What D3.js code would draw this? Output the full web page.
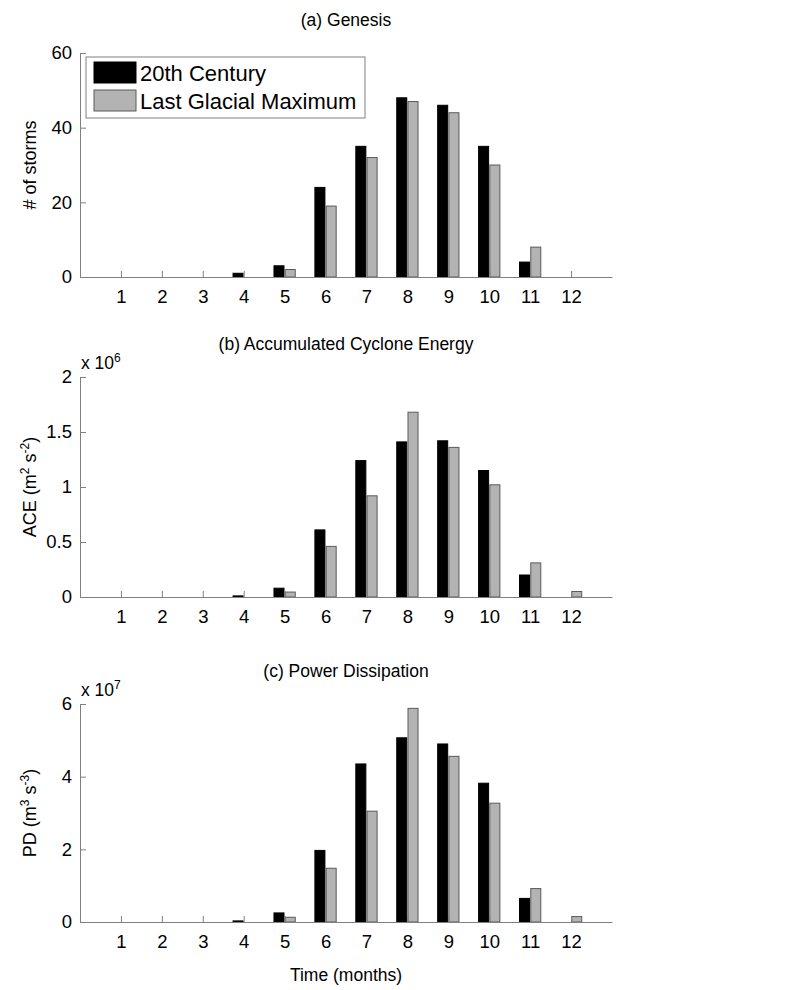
<!DOCTYPE html>
<html>
<head>
<meta charset="utf-8">
<script src="https://cdn.jsdelivr.net/npm/d3@7"></script>
<style>
  body { margin: 0; background: #fff; }
  text { font-family: "Liberation Sans", Arial, sans-serif; }
</style>
</head>
<body>
<script>
const months = [1, 2, 3, 4, 5, 6, 7, 8, 9, 10, 11, 12]
const seriesNames = ['20th Century', 'Last Glacial Maximum']

// (a) number of storms
const genesis20 = [0, 0, 0, 1, 3, 24, 35, 48, 46, 35, 4, 0]
const genesisLGM = [0, 0, 0, 0, 2, 19, 32, 47, 44, 30, 8, 0]
// (b) ACE, x 10^6
const ace20 = [0, 0, 0, 0.01, 0.08, 0.61, 1.24, 1.41, 1.42, 1.15, 0.2, 0]
const aceLGM = [0, 0, 0, 0, 0.045, 0.46, 0.92, 1.68, 1.36, 1.02, 0.31, 0.05]
// (c) PD, x 10^7
const pd20 = [0, 0, 0, 0.03, 0.25, 1.97, 4.35, 5.07, 4.9, 3.82, 0.65, 0]
const pdLGM = [0, 0, 0, 0, 0.13, 1.48, 3.05, 5.88, 4.56, 3.27, 0.92, 0.15]

const genesisTicks = [0, 20, 40, 60]
const aceTicks = [0, 0.5, 1, 1.5, 2]
const pdTicks = [0, 2, 4, 6]

const width = 802
const height = 990
const left = 80, right = 612

const panels = [
  { title: '(a) Genesis', top: 53, bottom: 277, ticks: genesisTicks, a: genesis20, b: genesisLGM,
    ylabel: [['# of storms', null]], exp: null },
  { title: '(b) Accumulated Cyclone Energy', top: 377, bottom: 597, ticks: aceTicks, a: ace20, b: aceLGM,
    ylabel: [['ACE (m', null], ['2', 'sup'], [' s', null], ['-2', 'sup'], [')', null]], exp: '6' },
  { title: '(c) Power Dissipation', top: 704, bottom: 922, ticks: pdTicks, a: pd20, b: pdLGM,
    ylabel: [['PD (m', null], ['3', 'sup'], [' s', null], ['-3', 'sup'], [')', null]], exp: '7' }
]

const fill = ['#000000', '#b3b3b3']
const stroke = ['#000000', '#5a5a5a']
const axisColor = '#808080'

const svg = d3.select('body')
  .append('svg')
  .attr('width', width)
  .attr('height', height)

const x = d3.scaleLinear().domain([0, 13]).range([left, right])
const barW = 0.245
const offsets = [-0.26, 0.015]

panels.forEach(p => {
  const y = d3.scaleLinear()
    .domain([0, d3.max(p.ticks)])
    .range([p.bottom, p.top])

  const g = svg.append('g')

  // bars
  ;[p.a, p.b].forEach((vals, s) => {
    g.selectAll(null)
      .data(months.map((m, i) => ({ m, v: vals[i] })).filter(d => d.v > 0))
      .join('rect')
      .attr('x', d => x(d.m + offsets[s]))
      .attr('width', x(barW) - x(0))
      .attr('y', d => y(d.v))
      .attr('height', d => y(0) - y(d.v))
      .attr('fill', fill[s])
      .attr('stroke', stroke[s])
      .attr('stroke-width', 1)
  })

  // x axis
  const xa = g.append('g')
    .attr('transform', `translate(0,${p.bottom})`)
    .call(d3.axisBottom(x).tickValues(months).tickSize(-6).tickSizeOuter(0).tickPadding(13))
  // y axis
  const ya = g.append('g')
    .attr('transform', `translate(${left},0)`)
    .call(d3.axisLeft(y).tickValues(p.ticks).tickFormat(d3.format('')).tickSize(-6).tickSizeOuter(0).tickPadding(8))

  ;[xa, ya].forEach(a => {
    a.select('.domain').attr('stroke', axisColor)
    a.selectAll('.tick line').attr('stroke', axisColor)
    a.selectAll('.tick text').attr('fill', '#000').style('font-size', '18.5px')
      .style('font-family', '"Liberation Sans", Arial, sans-serif')
  })

  // title
  svg.append('text')
    .attr('x', (left + right) / 2)
    .attr('y', p.top - 27)
    .attr('text-anchor', 'middle')
    .style('font-size', '17.5px')
    .text(p.title)

  // y label
  const yl = svg.append('text')
    .attr('transform', `translate(36,${(p.top + p.bottom) / 2}) rotate(-90)`)
    .attr('text-anchor', 'middle')
    .style('font-size', '18px')
  p.ylabel.forEach(([t, kind]) => {
    yl.append('tspan')
      .attr('baseline-shift', kind ? 'super' : null)
      .style('font-size', kind ? '12px' : null)
      .text(t)
  })

  // exponent
  if (p.exp) {
    const ex = svg.append('text')
      .attr('x', left + 1)
      .attr('y', p.top - 8)
      .style('font-size', '17.5px')
    ex.append('tspan').text('x 10')
    ex.append('tspan').attr('baseline-shift', 'super').style('font-size', '12px').text(p.exp)
  }
})

// legend
const lg = svg.append('g')
lg.append('rect')
  .attr('x', 86).attr('y', 57).attr('width', 279).attr('height', 61)
  .attr('fill', '#fff').attr('stroke', axisColor)
seriesNames.forEach((name, i) => {
  lg.append('rect')
    .attr('x', 94).attr('y', 62 + i * 28).attr('width', 42).attr('height', 21)
    .attr('fill', fill[i]).attr('stroke', stroke[i])
  lg.append('text')
    .attr('x', 140).attr('y', 81 + i * 28)
    .style('font-size', '22px')
    .text(name)
})

// x label
svg.append('text')
  .attr('x', (left + right) / 2)
  .attr('y', 981)
  .attr('text-anchor', 'middle')
  .style('font-size', '17.5px')
  .text('Time (months)')
</script>
</body>
</html>
